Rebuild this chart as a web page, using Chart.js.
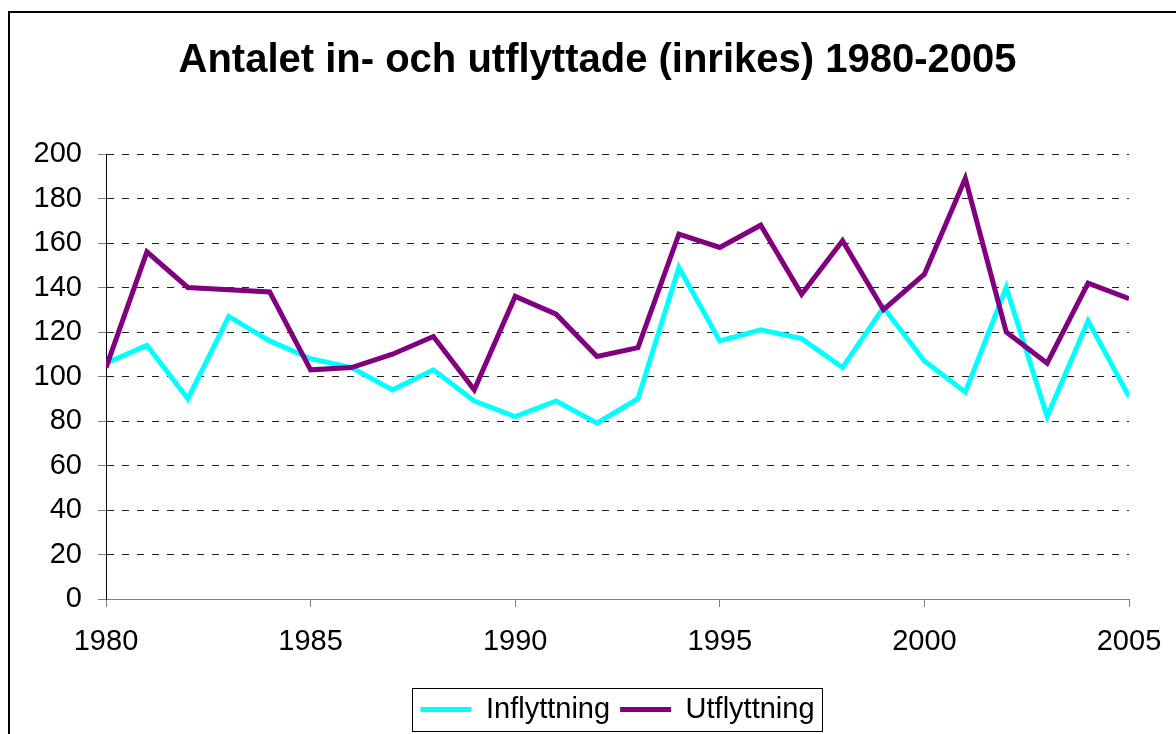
<!DOCTYPE html>
<html>
<head>
<meta charset="utf-8">
<script src="https://cdn.jsdelivr.net/npm/chart.js@4"></script>
<style>
  html, body { margin: 0; padding: 0; background: #fff; overflow: hidden; }
  #frame { position: absolute; left: 8px; top: 11px; width: 1300px; height: 800px; border: 2px solid #000; box-sizing: border-box; }
  #wrap { position: absolute; left: 0; top: 0; width: 1195px; height: 734px; }
</style>
</head>
<body>
<div id="frame"></div>
<div id="wrap"><canvas id="chart"></canvas></div>
<script>
// Data
const years = [1980, 1981, 1982, 1983, 1984, 1985, 1986, 1987, 1988, 1989, 1990, 1991, 1992,
               1993, 1994, 1995, 1996, 1997, 1998, 1999, 2000, 2001, 2002, 2003, 2004, 2005];
const inflyttning = [106, 114, 90, 127, 116, 108, 104, 94, 103, 89, 82, 89, 79,
                     90, 149, 116, 121, 117, 104, 131, 107, 93, 140, 82, 125, 91];
const utflyttning = [104, 156, 140, 139, 138, 103, 104, 110, 118, 94, 136, 128, 109,
                     113, 164, 158, 168, 137, 161, 130, 146, 189, 120, 106, 142, 135];
const yTicks = [0, 20, 40, 60, 80, 100, 120, 140, 160, 180, 200];
const titleText = "Antalet in- och utflyttade (inrikes) 1980-2005";

const FONT = "'Liberation Sans', Arial, sans-serif";

function toPoints(values) {
    return years.map((y, i) => ({ x: y, y: values[i] }));
}

// Draws the thin frame round the legend
const legendFrame = {
    id: "legendFrame",
    afterDraw(chart) {
        const boxes = chart.legend && chart.legend.legendHitBoxes;
        if (!boxes || !boxes.length) return;
        const first = boxes[0], last = boxes[boxes.length - 1];
        const left = first.left - 8;
        const right = last.left + last.width + 8;
        const top = first.top - 7;
        const bottom = first.top + first.height + 7;
        const ctx = chart.ctx;
        ctx.save();
        ctx.strokeStyle = "#000";
        ctx.lineWidth = 1;
        ctx.strokeRect(Math.round(left) + 0.5, Math.round(top) + 0.5, Math.round(right - left), Math.round(bottom - top));
        ctx.restore();
    }
};

const ctx = document.getElementById("chart").getContext("2d");
new Chart(ctx, {
    type: "line",
    data: {
        datasets: [
            {
                label: "Inflyttning",
                data: toPoints(inflyttning),
                borderColor: "#00FFFF",
                backgroundColor: "#00FFFF",
                borderWidth: 5,
                pointRadius: 0,
                tension: 0,
                fill: false,
                order: 1
            },
            {
                label: "Utflyttning",
                data: toPoints(utflyttning),
                borderColor: "#800080",
                backgroundColor: "#800080",
                borderWidth: 5,
                pointRadius: 0,
                tension: 0,
                fill: false,
                order: 0
            }
        ]
    },
    options: {
        responsive: true,
        maintainAspectRatio: false,
        animation: false,
        layout: { padding: 0 },
        plugins: {
            tooltip: { enabled: false },
            title: {
                display: true,
                text: titleText,
                color: "#000",
                font: { family: FONT, size: 40, weight: "bold" },
                padding: { top: 37, bottom: 69 }
            },
            legend: {
                position: "bottom",
                fullSize: false,
                labels: {
                    color: "#000",
                    font: { family: FONT, size: 29 },
                    boxWidth: 51,
                    boxHeight: 5,
                    padding: 10,
                    sort: (a, b) => a.datasetIndex - b.datasetIndex,
                    generateLabels(chart) {
                        return chart.data.datasets.map((ds, i) => ({
                            text: ds.label,
                            fillStyle: ds.borderColor,
                            strokeStyle: ds.borderColor,
                            lineWidth: 0,
                            fontColor: "#000",
                            hidden: false,
                            datasetIndex: i
                        }));
                    }
                }
            }
        },
        scales: {
            x: {
                type: "linear",
                min: years[0],
                max: years[years.length - 1],
                ticks: {
                    stepSize: 5,
                    color: "#000",
                    font: { family: FONT, size: 29 },
                    padding: 18,
                    maxRotation: 0,
                    callback: (v) => String(v)
                },
                grid: {
                    drawOnChartArea: false,
                    drawTicks: true,
                    tickLength: 8,
                    tickColor: "#808080",
                    tickWidth: 1
                },
                border: { display: true, color: "#808080", width: 1 },
                afterFit(scale) {
                    scale.height = 86;
                    scale.paddingRight = 66;
                }
            },
            y: {
                min: 0,
                max: 200,
                afterBuildTicks(scale) {
                    scale.ticks = yTicks.map(v => ({ value: v }));
                },
                ticks: {
                    color: "#000",
                    font: { family: FONT, size: 29 },
                    padding: 16
                },
                grid: {
                    color: "#222",
                    lineWidth: 1,
                    tickLength: 8,
                    tickColor: "#808080",
                    tickBorderDash: [],
                    drawTicks: true
                },
                // in Chart.js v4 border.dash sets the dash of the grid lines
                border: { display: true, color: "#000", width: 1, dash: [7, 8] },
                afterFit(scale) {
                    scale.width = 106;
                }
            }
        }
    },
    plugins: [legendFrame]
});
</script>
</body>
</html>
